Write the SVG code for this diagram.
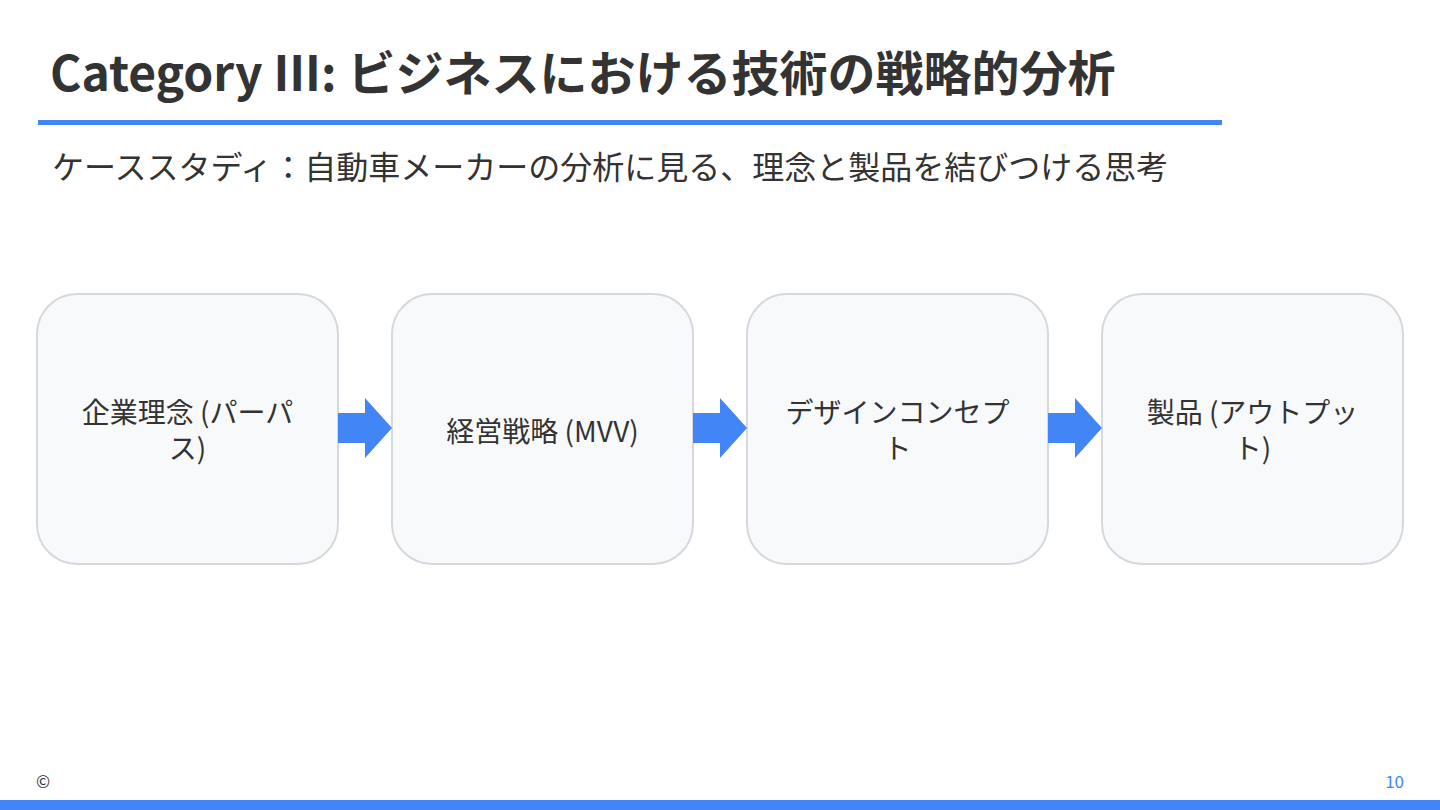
<svg xmlns="http://www.w3.org/2000/svg" width="1440" height="810" viewBox="0 0 1440 810">
<style>
text{font-family:"Noto Sans CJK JP","Noto Sans",sans-serif;}
.title{font-size:48px;font-weight:bold;fill:#333333;}
.sub{font-size:32px;fill:#333333;}
.box{fill:#f8f9fa;stroke:#d5d9de;stroke-width:2;}
.lbl{font-size:28px;fill:#333333;text-anchor:middle;}
.arr{fill:#4285f4;}
</style>
<rect width="1440" height="810" fill="#ffffff"/>
<text class="title" x="50" y="91">Category III: ビジネスにおける技術の戦略的分析</text>
<rect x="38" y="120" width="1184" height="5" fill="#4285f4"/>
<text class="sub" x="52" y="179">ケーススタディ：自動車メーカーの分析に見る、理念と製品を結びつける思考</text>
<g id="node1">
<rect class="box" x="37" y="294" width="301" height="270" rx="40"/>
<text class="lbl" x="187.5" y="423">企業理念 (パーパ</text>
<text class="lbl" x="187.5" y="459">ス)</text>
</g>
<g id="node2">
<rect class="box" x="392" y="294" width="301" height="270" rx="40"/>
<text class="lbl" x="542.5" y="442">経営戦略 (MVV)</text>
</g>
<g id="node3">
<rect class="box" x="747" y="294" width="301" height="270" rx="40"/>
<text class="lbl" x="897.5" y="423">デザインコンセプ</text>
<text class="lbl" x="897.5" y="459">ト</text>
</g>
<g id="node4">
<rect class="box" x="1102" y="294" width="301" height="270" rx="40"/>
<text class="lbl" x="1252.5" y="423">製品 (アウトプッ</text>
<text class="lbl" x="1252.5" y="459">ト)</text>
</g>
<g id="connectors">
<polygon class="arr" points="338,413 365,413 365,398 392,428 365,458 365,443 338,443"/>
<polygon class="arr" points="693,413 720,413 720,398 747,428 720,458 720,443 693,443"/>
<polygon class="arr" points="1048,413 1075,413 1075,398 1102,428 1075,458 1075,443 1048,443"/>
</g>
<text x="36" y="788" style="font-size:17px;fill:#333333;">©</text>
<text x="1404" y="788" style="font-size:17px;fill:#4285f4;text-anchor:end;">10</text>
<rect x="0" y="800" width="1440" height="10" fill="#4285f4"/>
</svg>
